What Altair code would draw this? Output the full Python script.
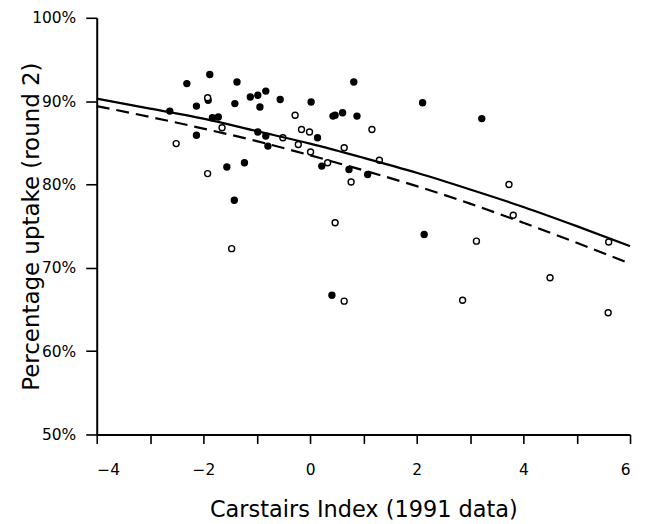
import altair as alt
import pandas as pd

# Filled circles
filled_x = [-2.63, -2.31, -1.88, -2.13, -1.91, -1.83, -1.72, -2.13, -1.37, -1.41,
            -1.12, -0.98, -0.83, -0.94, -0.56, -0.98, -0.83, -0.79, -1.56, -1.23,
            -1.42, 0.02, 0.82, 0.43, 0.47, 0.61, 0.88, 2.11, 0.14, 0.22,
            0.73, 1.08, 2.14, 3.22, 0.41]
filled_y = [88.8, 92.1, 93.2, 89.4, 90.1, 88.0, 88.1, 85.9, 92.3, 89.7,
            90.5, 90.7, 91.2, 89.3, 90.2, 86.3, 85.8, 84.6, 82.1, 82.6,
            78.1, 89.9, 92.3, 88.2, 88.3, 88.6, 88.2, 89.8, 85.6, 82.2,
            81.8, 81.2, 74.0, 87.9, 66.7]

# Open circles
open_x = [-1.92, -2.51, -1.65, -1.92, -0.28, -0.16, -0.01, -0.51, -0.22, 0.01,
          0.33, 0.64, 1.16, 1.30, 0.77, -1.47, 0.47, 0.64, 3.73, 3.81,
          3.12, 5.60, 4.50, 2.86, 5.59]
open_y = [90.4, 84.9, 86.8, 81.3, 88.3, 86.6, 86.3, 85.6, 84.8, 83.9,
          82.6, 84.4, 86.6, 82.9, 80.3, 72.3, 75.4, 66.0, 80.0, 76.3,
          73.2, 73.1, 68.8, 66.1, 64.6]

# Fitted curves
curve_x = [-4, -3, -2, -1, 0, 1, 2, 3, 4, 5, 6]
solid_y = [90.3, 89.1, 87.9, 86.4, 84.9, 83.2, 81.4, 79.4, 77.3, 75.0, 72.6]
dashed_y = [89.4, 88.1, 86.7, 85.2, 83.5, 81.7, 79.8, 77.7, 75.4, 73.0, 70.5]

x_ticks = [-4, -3, -2, -1, 0, 1, 2, 3, 4, 5, 6]
y_ticks = [50, 60, 70, 80, 90, 100]

pts = pd.DataFrame({
    "x": filled_x + open_x,
    "y": filled_y + open_y,
    "g": ["filled"] * len(filled_x) + ["open"] * len(open_x),
})
curves = pd.DataFrame({
    "x": curve_x * 2,
    "y": solid_y + dashed_y,
    "s": ["solid"] * len(curve_x) + ["dashed"] * len(curve_x),
})

FONT = "DejaVu Sans"

xscale = alt.Scale(domain=[-4, 6], nice=False, zero=False)
yscale = alt.Scale(domain=[50, 100], nice=False, zero=False)

xaxis = alt.Axis(
    values=x_ticks,
    labelExpr="datum.value % 2 == 0 ? format(datum.value, 'd') : ''",
    title="Carstairs Index (1991 data)",
    grid=False, domainColor="black", domainWidth=2, tickColor="black",
    tickWidth=1.6, tickSize=9, labelPadding=19, labelFont=FONT, labelFontSize=15.5,
    labelColor="black", titleFont=FONT, titleFontSize=22.5, titleFontWeight="normal",
    titleColor="black", titleY=82, titleBaseline="alphabetic",
)
yaxis = alt.Axis(
    values=y_ticks,
    labelExpr="datum.value + '%'",
    title="Percentage uptake (round 2)",
    grid=False, domainColor="black", domainWidth=2, tickColor="black",
    tickWidth=1.6, tickSize=11, labelPadding=10, labelFont=FONT, labelFontSize=15.5,
    labelColor="black", titleFont=FONT, titleFontSize=23, titleFontWeight="normal",
    titleColor="black", titleX=-58, titleY=209, titleBaseline="alphabetic",
)

points = alt.Chart(pts).mark_point(shape="circle", size=36, strokeWidth=1.4, stroke="black", opacity=1).encode(
    x=alt.X("x:Q", scale=xscale, axis=xaxis),
    y=alt.Y("y:Q", scale=yscale, axis=yaxis),
    fill=alt.Fill("g:N", scale=alt.Scale(domain=["filled", "open"], range=["black", "white"]), legend=None),
)

solid = alt.Chart(curves).transform_filter(alt.datum.s == "solid").mark_line(
    color="black", strokeWidth=2.2, interpolate="monotone"
).encode(x=alt.X("x:Q", scale=xscale), y=alt.Y("y:Q", scale=yscale))

dashed = alt.Chart(curves).transform_filter(alt.datum.s == "dashed").mark_line(
    color="black", strokeWidth=2.2, strokeDash=[13, 7], interpolate="monotone"
).encode(x=alt.X("x:Q", scale=xscale), y=alt.Y("y:Q", scale=yscale))

chart = alt.layer(points, solid, dashed).properties(
    width=535, height=418,
    autosize=alt.AutoSizeParams(type="none"),
    padding={"left": 89, "top": 9, "right": 10, "bottom": 89},
    background="white",
).configure_view(stroke=None)

chart.save("out.html", embed_options={"renderer": "svg", "actions": False})
